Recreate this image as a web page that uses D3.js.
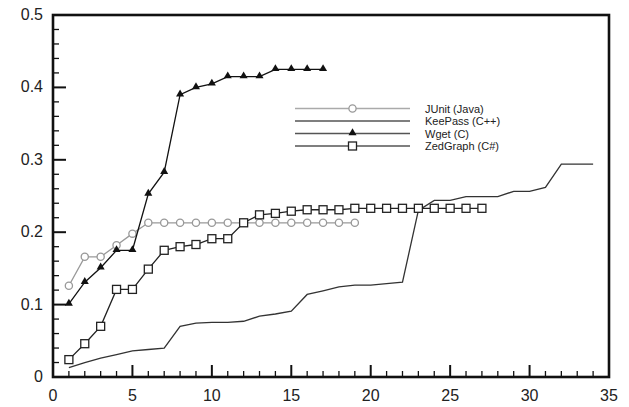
<!DOCTYPE html>
<html>
<head>
<meta charset="utf-8">
<script src="https://cdn.jsdelivr.net/npm/d3@7"></script>
<style>
  body { margin: 0; background: #fff; }
  svg text { font-family: "Liberation Sans", Arial, sans-serif; fill: #222; }
</style>
</head>
<body>
<div id="chart"></div>
<script>
// series values (x = 1..n)
var junit = [0.126, 0.166, 0.166, 0.182, 0.198, 0.213, 0.213, 0.213, 0.213, 0.213,
	0.213, 0.213, 0.213, 0.213, 0.213, 0.213, 0.213, 0.213, 0.213];
var keepass = [0.013, 0.020, 0.026, 0.031, 0.036, 0.038, 0.040, 0.070, 0.0745, 0.0755,
	0.0755, 0.077, 0.084, 0.087, 0.091, 0.114, 0.119, 0.1245, 0.127, 0.127,
	0.129, 0.131, 0.230, 0.244, 0.244, 0.249, 0.249, 0.249, 0.2565, 0.2565,
	0.262, 0.294, 0.294, 0.294];
var wget = [0.101, 0.131, 0.151, 0.175, 0.175, 0.253, 0.283, 0.390, 0.400, 0.405,
	0.415, 0.415, 0.415, 0.425, 0.425, 0.425, 0.425];
var zedgraph = [0.024, 0.046, 0.070, 0.121, 0.121, 0.149, 0.175, 0.180, 0.183, 0.191,
	0.191, 0.213, 0.224, 0.226, 0.229, 0.231, 0.231, 0.231, 0.233, 0.233,
	0.233, 0.233, 0.233, 0.233, 0.233, 0.233, 0.233];
var legendLabels = ["JUnit (Java)", "KeePass (C++)", "Wget (C)", "ZedGraph (C#)"];
var xTicks = [0, 5, 10, 15, 20, 25, 30, 35];
var yTicks = [0, 0.1, 0.2, 0.3, 0.4, 0.5];

var width = 629, height = 407;
var margin = { top: 15, right: 20, bottom: 30, left: 53 };

var svg = d3.select('#chart').append('svg')
	.attr('width', width)
	.attr('height', height);

var x = d3.scaleLinear().domain([0, 35]).range([margin.left, 609]);
var y = d3.scaleLinear().domain([0, 0.5]).range([377, margin.top]);

//minor + major ticks, drawn inside the frame
var gx = svg.append('g');
d3.range(0, 36, 1).forEach(function(v){
	var major = v % 5 == 0;
	gx.append('line')
		.attr('x1', x(v)).attr('x2', x(v))
		.attr('y1', y(0)).attr('y2', y(0) - (major ? 12 : 6))
		.attr('stroke', '#111').attr('stroke-width', major ? 2 : 1.3);
});
var gy = svg.append('g');
d3.range(0, 26, 1).forEach(function(i){
	var v = i * 0.02, major = i % 5 == 0;
	gy.append('line')
		.attr('x1', x(0)).attr('x2', x(0) + (major ? 13 : 6))
		.attr('y1', y(v)).attr('y2', y(v))
		.attr('stroke', '#111').attr('stroke-width', major ? 2 : 1.3);
});

gx.selectAll('text').data(xTicks).enter().append('text')
	.attr('x', function(d){ return x(d); })
	.attr('y', 401)
	.attr('text-anchor', 'middle')
	.style('font-size', '16px')
	.text(function(d){ return d; });

gy.selectAll('text').data(yTicks).enter().append('text')
	.attr('x', 43)
	.attr('y', function(d){ return y(d) + 5; })
	.attr('text-anchor', 'end')
	.style('font-size', '16px')
	.text(function(d){ return d == 0 ? '0' : d3.format('.1f')(d); });

//frame
svg.append('rect')
	.attr('x', x(0)).attr('y', y(0.5))
	.attr('width', x(35) - x(0)).attr('height', y(0) - y(0.5))
	.attr('fill', 'none').attr('stroke', '#111').attr('stroke-width', 2.6);

var line = d3.line()
	.x(function(d, i){ return x(i + 1); })
	.y(function(d){ return y(d); });

var series = [
	{ data: junit, color: '#999', marker: 'circle' },
	{ data: keepass, color: '#333', marker: null },
	{ data: wget, color: '#111', marker: 'triangle' },
	{ data: zedgraph, color: '#222', marker: 'square' }
];

function addMarker(g, type, cx, cy, color){
	if(type == 'circle'){
		g.append('circle').attr('cx', cx).attr('cy', cy).attr('r', 3.6)
			.attr('fill', '#fff').attr('stroke', color).attr('stroke-width', 1.3);
	} else if(type == 'square'){
		g.append('rect').attr('x', cx - 4).attr('y', cy - 4)
			.attr('width', 8).attr('height', 8)
			.attr('fill', '#fff').attr('stroke', color).attr('stroke-width', 1.3);
	} else if(type == 'triangle'){
		g.append('path')
			.attr('d', d3.symbol().type(d3.symbolTriangle).size(28)())
			.attr('transform', 'translate(' + cx + ',' + (cy - 0.5) + ')')
			.attr('fill', color);
	}
}

series.forEach(function(s){
	var g = svg.append('g');
	g.append('path')
		.datum(s.data)
		.attr('d', line)
		.attr('fill', 'none')
		.attr('stroke', s.color)
		.attr('stroke-width', 1.3);
	if(s.marker){
		s.data.forEach(function(d, i){
			addMarker(g, s.marker, x(i + 1), y(d), s.color);
		});
	}
});

//legend
var legend = svg.append('g');
var rowY = [108.5, 121, 133.5, 146];
series.forEach(function(s, i){
	legend.append('line')
		.attr('x1', 295).attr('x2', 410)
		.attr('y1', rowY[i]).attr('y2', rowY[i])
		.attr('stroke', i == 0 ? '#aaa' : '#555')
		.attr('stroke-width', 1.3);
	if(s.marker) addMarker(legend, s.marker, 352.5, rowY[i], s.color);
	legend.append('text')
		.attr('x', 425).attr('y', rowY[i] + 4)
		.style('font-size', '11px')
		.text(legendLabels[i]);
});
</script>
</body>
</html>
